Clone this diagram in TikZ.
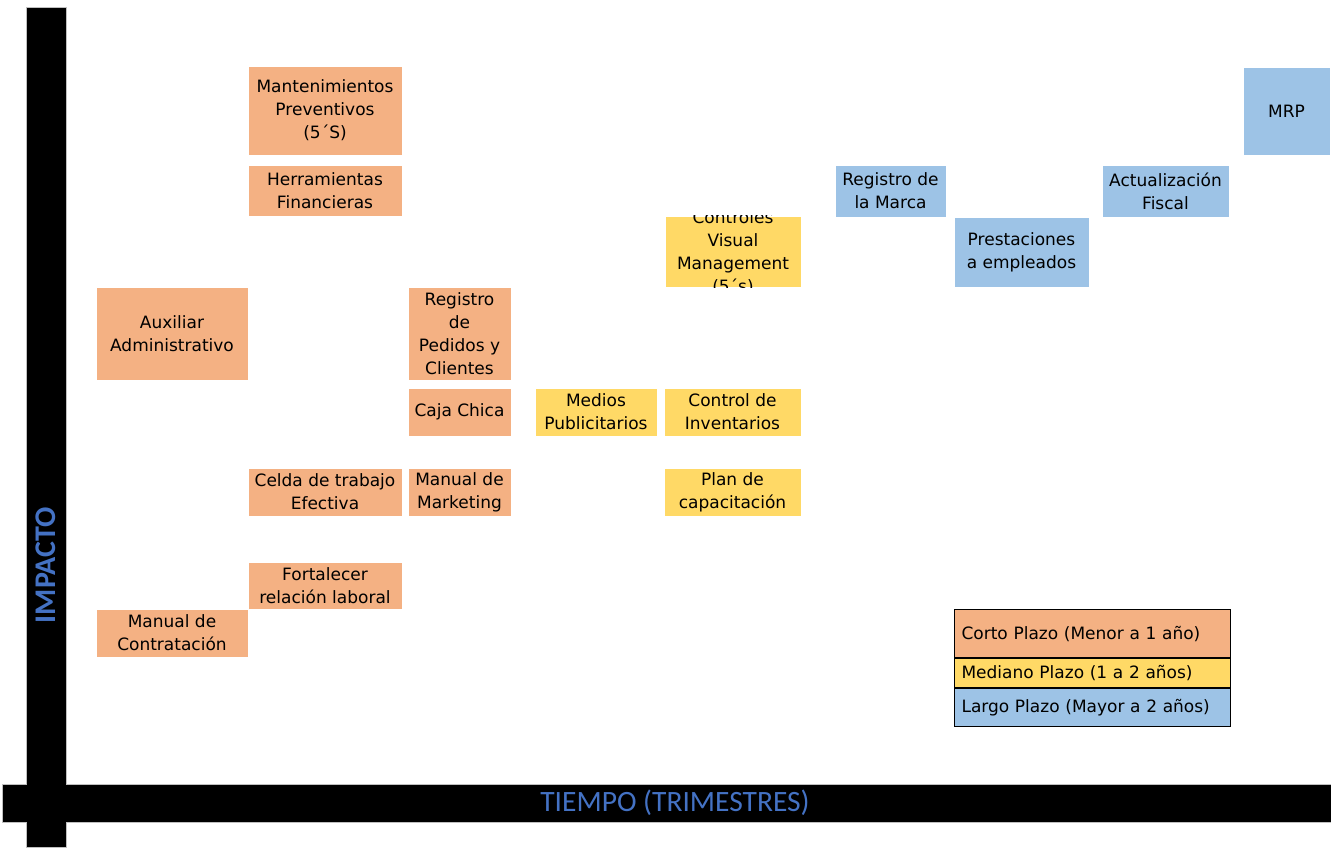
\documentclass[tikz,border=0pt]{standalone}
\usepackage{fontspec}
\setmainfont{DejaVu Sans}
\newfontfamily\axisfont{Carlito}
\definecolor{corto}{HTML}{F4B183}
\definecolor{mediano}{HTML}{FFD966}
\definecolor{largo}{HTML}{9DC3E6}
\definecolor{axisblue}{HTML}{4472C4}
\begin{document}
\begin{tikzpicture}[x=1pt,y=-1pt,
  cell/.style={rectangle, inner sep=0pt, align=center,
    font=\fontsize{17}{23}\selectfont, draw=white, line width=0.6pt},
  ccorto/.style={cell, fill=corto},
  cmed/.style={cell, fill=mediano},
  clargo/.style={cell, fill=largo},
  legrow/.style={rectangle, draw=black, line width=1.1pt, anchor=north west,
    inner xsep=7pt, inner ysep=0pt, text width=262pt, align=left,
    font=\fontsize{17}{20}\selectfont},
  axislabel/.style={text=axisblue, inner sep=0pt}]
\useasboundingbox (0,0) rectangle (1331,847);
\fill[white] (0,0) rectangle (1331,847);

% axes
\draw[gray!50, line width=1.5pt] (3,785) rectangle (1331,822);
\draw[gray!50, line width=1.5pt] (27,8) rectangle (66,847);
\fill[black] (3,785) rectangle (1331,822);
\fill[black] (27,8) rectangle (66,847);
\node[axislabel, rotate=90, font=\axisfont\bfseries\fontsize{30}{30}\selectfont] (impacto) at (46,565) {IMPACTO};
\node[axislabel, font=\axisfont\fontsize{29.5}{30}\selectfont] (tiempo) at (675,803) {TIEMPO (TRIMESTRES)};

% short term
\node[ccorto, minimum width=154, minimum height=89] (mant) at (325,110.5) {Mantenimientos\\Preventivos\\(5´S)};
\node[ccorto, minimum width=154, minimum height=51] (herr) at (325,190.5) {Herramientas\\Financieras};
\node[ccorto, minimum width=152, minimum height=93] (aux) at (172,333.5) {Auxiliar\\Administrativo};
\node[ccorto, minimum width=103, minimum height=93] (regped) at (459.5,333.5) {Registro\\de\\Pedidos y\\Clientes};
\node[ccorto, minimum width=103, minimum height=48] (caja) at (459.5,412) {Caja Chica};
\node[ccorto, minimum width=154, minimum height=48] (celda) at (325,492) {Celda de trabajo\\Efectiva};
\node[ccorto, minimum width=103, minimum height=48] (manmkt) at (459.5,492) {Manual de\\Marketing};
\node[ccorto, minimum width=154, minimum height=47] (fort) at (325,585.5) {Fortalecer\\relación laboral};
\node[ccorto, minimum width=152, minimum height=48] (mancont) at (172,633) {Manual de\\Contratación};

% medium term
\node[cmed, minimum width=122, minimum height=48] (medios) at (596,412) {Medios\\Publicitarios};
\node[cmed, minimum width=137, minimum height=48] (ctrlinv) at (732.5,412) {Control de\\Inventarios};
\node[cmed, minimum width=137, minimum height=48] (plan) at (732.5,492) {Plan de\\capacitación};
\node[cmed, minimum width=136, minimum height=71] (cvm) at (733,251.5) {};
\begin{scope}
  \clip (cvm.south west) rectangle (cvm.north east);
  \node[cell, draw=none] (cvmtext) at (733,253) {Controles\\Visual\\Management\\(5´s)};
\end{scope}

% long term
\node[clargo, minimum width=111, minimum height=52] (regmarca) at (890.5,191) {Registro de\\la Marca};
\node[clargo, minimum width=135, minimum height=70] (prest) at (1021.5,252) {Prestaciones\\a empleados};
\node[clargo, minimum width=127, minimum height=52] (actfis) at (1165.5,191) {Actualización\\Fiscal};
\node[clargo, minimum width=87, minimum height=88] (mrp) at (1286.5,111) {MRP};

% legend
\node[legrow, fill=corto, minimum height=48] (legc) at (954,609) {Corto Plazo (Menor a 1 año)};
\node[legrow, fill=mediano, minimum height=29] (legm) at (legc.south west) {Mediano Plazo (1 a 2 años)};
\node[legrow, fill=largo, minimum height=38] (legl) at (legm.south west) {Largo Plazo (Mayor a 2 años)};
\end{tikzpicture}
\end{document}
